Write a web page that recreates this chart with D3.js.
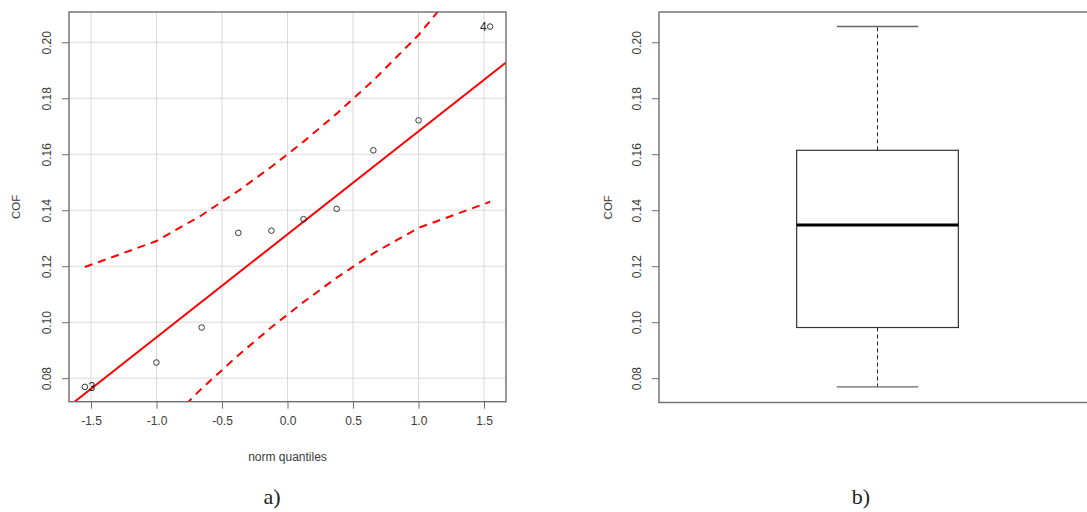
<!DOCTYPE html>
<html>
<head>
<meta charset="utf-8">
<script src="https://cdn.jsdelivr.net/npm/d3@7"></script>
<style>
  html, body { margin: 0; padding: 0; background: #fff; }
  svg { display: block; }
  text { font-family: "Liberation Sans", Arial, sans-serif; }
  text.caption { font-family: "Liberation Serif", "Times New Roman", serif; }
</style>
</head>
<body>
<svg id="chart" width="1087" height="512"></svg>
<script>
// COF sample, sorted, paired with theoretical normal quantiles
const cof = [0.0769, 0.0856, 0.0981, 0.1319, 0.1327, 0.1368, 0.1405, 0.1614, 0.1721, 0.2056];
const normQuantiles = [-1.5466, -1.0005, -0.6554, -0.3755, -0.1226, 0.1226, 0.3755, 0.6554, 1.0005, 1.5466];
// 95% pointwise confidence envelope at each quantile
const envelopeUpper = [0.1197, 0.1290, 0.1382, 0.1469, 0.1555, 0.1645, 0.1745, 0.1864, 0.2026, 0.2335];
const envelopeLower = [0.0292, 0.0601, 0.0763, 0.0882, 0.0982, 0.1072, 0.1159, 0.1246, 0.1337, 0.1430];
// reference line through the quartiles
const refIntercept = 0.1314;
const refSlope = 0.0368;
// identified observations (position in sorted sample, case label)
const idPoints = [{ pos: 0, label: "3" }, { pos: 9, label: "4" }];
// axis ticks
const xTicks = [-1.5, -1.0, -0.5, 0.0, 0.5, 1.0, 1.5];
const xTickLabels = ["-1.5", "-1.0", "-0.5", "0.0", "0.5", "1.0", "1.5"];
const yTicks = [0.08, 0.10, 0.12, 0.14, 0.16, 0.18, 0.20];
const yTickLabels = ["0.08", "0.10", "0.12", "0.14", "0.16", "0.18", "0.20"];
const captions = ["a)", "b)"];

const svg = d3.select("#chart");
const frameColor = "#6e6e6e";
const textColor = "#3a3a3a";

// ---------- panel a: normal QQ plot ----------
const L = { left: 69, right: 506, top: 12, bottom: 401.7 };
const x = d3.scaleLinear().domain([-1.668, 1.668]).range([L.left, L.right]);
const y = d3.scaleLinear().domain([0.0716, 0.2108]).range([L.bottom, L.top]);

svg.append("clipPath").attr("id", "clipA")
  .append("rect").attr("x", L.left).attr("y", L.top)
  .attr("width", L.right - L.left).attr("height", L.bottom - L.top);

const gA = svg.append("g");
// grid
gA.append("g").selectAll("line").data(xTicks).join("line")
  .attr("x1", d => x(d)).attr("x2", d => x(d))
  .attr("y1", L.top).attr("y2", L.bottom)
  .attr("stroke", "#dadada").attr("stroke-width", 1);
gA.append("g").selectAll("line").data(yTicks).join("line")
  .attr("y1", d => y(d)).attr("y2", d => y(d))
  .attr("x1", L.left).attr("x2", L.right)
  .attr("stroke", "#dadada").attr("stroke-width", 1);

const plotA = gA.append("g").attr("clip-path", "url(#clipA)");
// reference line
const xd = x.domain();
plotA.append("line")
  .attr("x1", x(xd[0])).attr("y1", y(refIntercept + refSlope * xd[0]))
  .attr("x2", x(xd[1])).attr("y2", y(refIntercept + refSlope * xd[1]))
  .attr("stroke", "#ff0000").attr("stroke-width", 2);
// envelope
const env = d3.line().x(d => x(d[0])).y(d => y(d[1]));
[envelopeUpper, envelopeLower].forEach(arr => {
  plotA.append("path")
    .datum(normQuantiles.map((q, i) => [q, arr[i]]))
    .attr("d", env).attr("fill", "none")
    .attr("stroke", "#ff0000").attr("stroke-width", 2)
    .attr("stroke-dasharray", "8,6");
});
// points
plotA.append("g").selectAll("circle").data(cof).join("circle")
  .attr("cx", (d, i) => x(normQuantiles[i])).attr("cy", d => y(d))
  .attr("r", 2.8).attr("fill", "none")
  .attr("stroke", "#222").attr("stroke-width", 0.9);
// labels of identified points
gA.append("g").selectAll("text").data(idPoints).join("text")
  .attr("x", d => x(normQuantiles[d.pos]) + (d.pos === 0 ? 3.5 : -3.5))
  .attr("y", d => y(cof[d.pos]) + 4.3)
  .attr("text-anchor", d => d.pos === 0 ? "start" : "end")
  .attr("font-size", 12).attr("fill", "#222")
  .text(d => d.label);

// frame
gA.append("rect").attr("x", L.left).attr("y", L.top)
  .attr("width", L.right - L.left).attr("height", L.bottom - L.top)
  .attr("fill", "none").attr("stroke", frameColor).attr("stroke-width", 1.4);

// axes
const xAxisA = d3.axisBottom(x).tickValues(xTicks)
  .tickFormat((d, i) => xTickLabels[i]).tickSize(7).tickPadding(8);
const gxA = gA.append("g").attr("transform", `translate(0,${L.bottom})`).call(xAxisA);
gxA.select(".domain").remove();
gxA.selectAll("line").attr("stroke", frameColor);
gxA.selectAll("text").attr("font-size", 12).attr("fill", textColor)
  .attr("font-family", null);

function yAxisAt(g, xPos) {
  const ax = d3.axisLeft(y).tickValues(yTicks)
    .tickFormat((d, i) => yTickLabels[i]).tickSize(7).tickPadding(0);
  const gy = g.append("g").attr("transform", `translate(${xPos},0)`).call(ax);
  gy.select(".domain").remove();
  gy.selectAll("line").attr("stroke", frameColor);
  // rotate each label around its own anchor
  gy.selectAll(".tick text")
    .attr("font-size", 12).attr("fill", textColor)
    .attr("font-family", null)
    .attr("text-anchor", "middle")
    .attr("dominant-baseline", "central")
    .attr("dy", null).attr("x", 0).attr("y", 0)
    .attr("transform", "translate(-22,0) rotate(-90)");
  return gy;
}
yAxisAt(gA, L.left);

gA.append("text").attr("transform", `translate(16,${(L.top + L.bottom) / 2}) rotate(-90)`)
  .attr("text-anchor", "middle").attr("dominant-baseline", "central")
  .attr("font-size", 11.5).attr("fill", textColor).text("COF");
gA.append("text").attr("x", (L.left + L.right) / 2).attr("y", 461)
  .attr("text-anchor", "middle").attr("font-size", 12).attr("fill", textColor)
  .text("norm quantiles");

// ---------- panel b: boxplot ----------
const R = { left: 659, right: 1096, top: 12, bottom: 402.5 };
const xb = d3.scaleLinear().domain([0, 2]).range([R.left, R.right]);
const gB = svg.append("g");

// Tukey five-number summary of the sample
function fivenum(v) {
  const s = v.slice().sort(d3.ascending), n = s.length;
  const n4 = Math.floor((n + 3) / 2) / 2;
  const idx = [1, n4, (n + 1) / 2, n + 1 - n4, n];
  return idx.map(d => 0.5 * (s[Math.floor(d) - 1] + s[Math.ceil(d) - 1]));
}
const [wLo, q1, med, q3, wHi] = fivenum(cof);
const boxHalf = 0.37, capHalf = 0.186, cx = 1;

gB.append("rect").attr("x", R.left).attr("y", R.top)
  .attr("width", R.right - R.left).attr("height", R.bottom - R.top)
  .attr("fill", "none").attr("stroke", frameColor).attr("stroke-width", 1.4);

// whiskers
[[q3, wHi], [q1, wLo]].forEach(([a, b]) => {
  gB.append("line").attr("x1", xb(cx)).attr("x2", xb(cx))
    .attr("y1", y(a)).attr("y2", y(b))
    .attr("stroke", "#222").attr("stroke-width", 1).attr("stroke-dasharray", "4,3");
});
// caps
[wHi, wLo].forEach(v => {
  gB.append("line").attr("x1", xb(cx - capHalf)).attr("x2", xb(cx + capHalf))
    .attr("y1", y(v)).attr("y2", y(v))
    .attr("stroke", "#666").attr("stroke-width", 1.4);
});
// box
gB.append("rect").attr("x", xb(cx - boxHalf)).attr("y", y(q3))
  .attr("width", xb(cx + boxHalf) - xb(cx - boxHalf)).attr("height", y(q1) - y(q3))
  .attr("fill", "none").attr("stroke", "#333").attr("stroke-width", 1.2);
// median
gB.append("line").attr("x1", xb(cx - boxHalf)).attr("x2", xb(cx + boxHalf))
  .attr("y1", y(med)).attr("y2", y(med))
  .attr("stroke", "#000").attr("stroke-width", 3);

yAxisAt(gB, R.left);
gB.append("text").attr("transform", `translate(607.5,${(R.top + R.bottom) / 2}) rotate(-90)`)
  .attr("text-anchor", "middle").attr("dominant-baseline", "central")
  .attr("font-size", 11.5).attr("fill", textColor).text("COF");

// ---------- captions ----------
svg.append("g").selectAll("text").data(captions).join("text")
  .attr("class", "caption")
  .attr("x", (d, i) => i === 0 ? 272 : 861)
  .attr("y", 504)
  .attr("text-anchor", "middle")
  .attr("font-size", 22).attr("fill", "#222")
  .text(d => d);
</script>
</body>
</html>
